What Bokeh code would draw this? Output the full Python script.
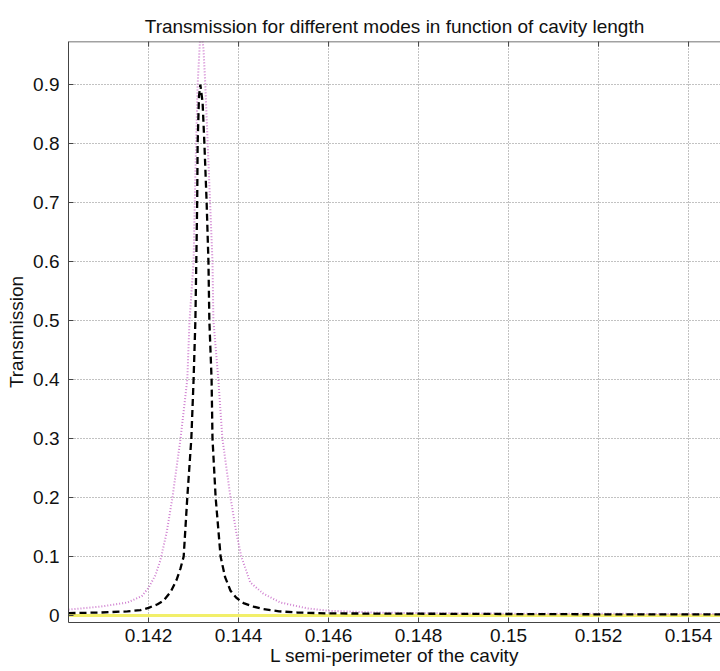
from bokeh.plotting import figure
from bokeh.models import FixedTicker, Range1d, Span
from bokeh.embed import file_html
from bokeh.resources import INLINE

# ---- data ----
L_black = [0.14022, 0.14093, 0.14153, 0.14182, 0.14200, 0.14220, 0.14233, 0.14249,
           0.14262, 0.14271, 0.14278, 0.14286, 0.14295, 0.14300, 0.14304, 0.14306,
           0.14308, 0.14309, 0.14312, 0.14315, 0.14320, 0.14324, 0.14329, 0.14333,
           0.14335, 0.14340, 0.14342, 0.14349, 0.14360, 0.14370, 0.14382, 0.14395,
           0.14411, 0.14433, 0.14455, 0.14490, 0.14531, 0.14600, 0.14800, 0.15000,
           0.15200, 0.15471]
T_black = [0.004, 0.005, 0.007, 0.009, 0.013, 0.019, 0.025, 0.040,
           0.060, 0.080, 0.100, 0.200, 0.300, 0.400, 0.500, 0.600,
           0.700, 0.800, 0.880, 0.900, 0.870, 0.800, 0.700, 0.600,
           0.500, 0.400, 0.300, 0.200, 0.100, 0.065, 0.042, 0.030,
           0.021, 0.015, 0.011, 0.007, 0.005, 0.0035, 0.003, 0.0025,
           0.002, 0.002]

L_mag = [0.14022, 0.14093, 0.14153, 0.14185, 0.14200, 0.14215, 0.14226, 0.14240,
         0.14253, 0.14271, 0.14286, 0.14291, 0.14300, 0.14304, 0.14309, 0.14316,
         0.14322, 0.14326, 0.14342, 0.14344, 0.14355, 0.14364, 0.14382, 0.14395,
         0.14406, 0.14426, 0.14455, 0.14493, 0.14553, 0.14600, 0.14700, 0.14800,
         0.15000, 0.15471]
T_mag = [0.010, 0.015, 0.022, 0.033, 0.047, 0.068, 0.093, 0.140,
         0.200, 0.300, 0.400, 0.500, 0.600, 0.750, 0.900, 1.000,
         0.960, 0.900, 0.600, 0.500, 0.400, 0.300, 0.200, 0.140,
         0.100, 0.056, 0.037, 0.022, 0.012, 0.008, 0.005, 0.004,
         0.003, 0.0025]

L_yel = [0.14022, 0.15471]
T_yel = [0.0, 0.0]

x_ticks = [0.142, 0.144, 0.146, 0.148, 0.15, 0.152, 0.154]
x_tick_labels = ["0.142", "0.144", "0.146", "0.148", "0.15", "0.152", "0.154"]
y_ticks = [0, 0.1, 0.2, 0.3, 0.4, 0.5, 0.6, 0.7, 0.8, 0.9]
y_tick_labels = ["0", "0.1", "0.2", "0.3", "0.4", "0.5", "0.6", "0.7", "0.8", "0.9"]
y_top = 0.973

FONT = "Liberation Sans"
FS = "19px"
AXC = "#444444"

p = figure(width=720, height=671, output_backend="svg", toolbar_location=None,
           x_range=Range1d(0.14022, 0.15471), y_range=Range1d(-0.0119, y_top),
           min_border_left=68, min_border_right=0, min_border_top=41,
           min_border_bottom=49, background_fill_color="white",
           border_fill_color="white")

p.title.text = "Transmission for different modes in function of cavity length"
p.title.align = "center"
p.title.text_font = FONT
p.title.text_font_size = FS
p.title.text_font_style = "normal"
p.title.text_color = "#111111"

p.outline_line_color = None

p.xgrid.ticker = FixedTicker(ticks=x_ticks)
p.ygrid.ticker = FixedTicker(ticks=y_ticks)
for g in (p.xgrid[0], p.ygrid[0]):
    g.grid_line_color = "#707070"
    g.grid_line_dash = "1 2"
    g.grid_line_width = 1
    g.grid_line_alpha = 0.85

p.line(L_yel, T_yel, line_color="#f2ef6a", line_width=3)
p.line(L_mag, T_mag, line_color="#d080d0", line_width=2, line_dash="1 2")
p.line(L_black, T_black, line_color="black", line_width=2.3, line_dash="7 4")

# top box line with inward ticks
p.add_layout(Span(location=y_top, dimension="width", line_color=AXC, line_width=1.5))
p.scatter(x_ticks, [y_top] * len(x_ticks), marker="dash", angle=90, angle_units="deg",
          size=10, line_color=AXC, line_width=1)

for ax in (p.xaxis[0], p.yaxis[0]):
    ax.major_label_text_font = FONT
    ax.major_label_text_font_size = FS
    ax.major_label_text_color = "#111111"
    ax.axis_label_text_font = FONT
    ax.axis_label_text_font_size = FS
    ax.axis_label_text_font_style = "normal"
    ax.axis_label_text_color = "#111111"
    ax.major_tick_in = 5
    ax.major_tick_out = 0
    ax.minor_tick_line_color = None
    ax.axis_line_color = AXC
    ax.major_tick_line_color = AXC

p.xaxis[0].ticker = FixedTicker(ticks=x_ticks)
p.yaxis[0].ticker = FixedTicker(ticks=y_ticks)
p.xaxis[0].major_label_overrides = {t: s for t, s in zip(x_ticks, x_tick_labels)}
p.yaxis[0].major_label_overrides = {t: s for t, s in zip(y_ticks, y_tick_labels)}
p.xaxis[0].axis_label = "L semi-perimeter of the cavity"
p.yaxis[0].axis_label = "Transmission"
p.xaxis[0].major_label_standoff = 6
p.yaxis[0].major_label_standoff = 9
p.xaxis[0].axis_label_standoff = 0
p.yaxis[0].axis_label_standoff = 3

open("out.html", "w").write(file_html(p, INLINE))
